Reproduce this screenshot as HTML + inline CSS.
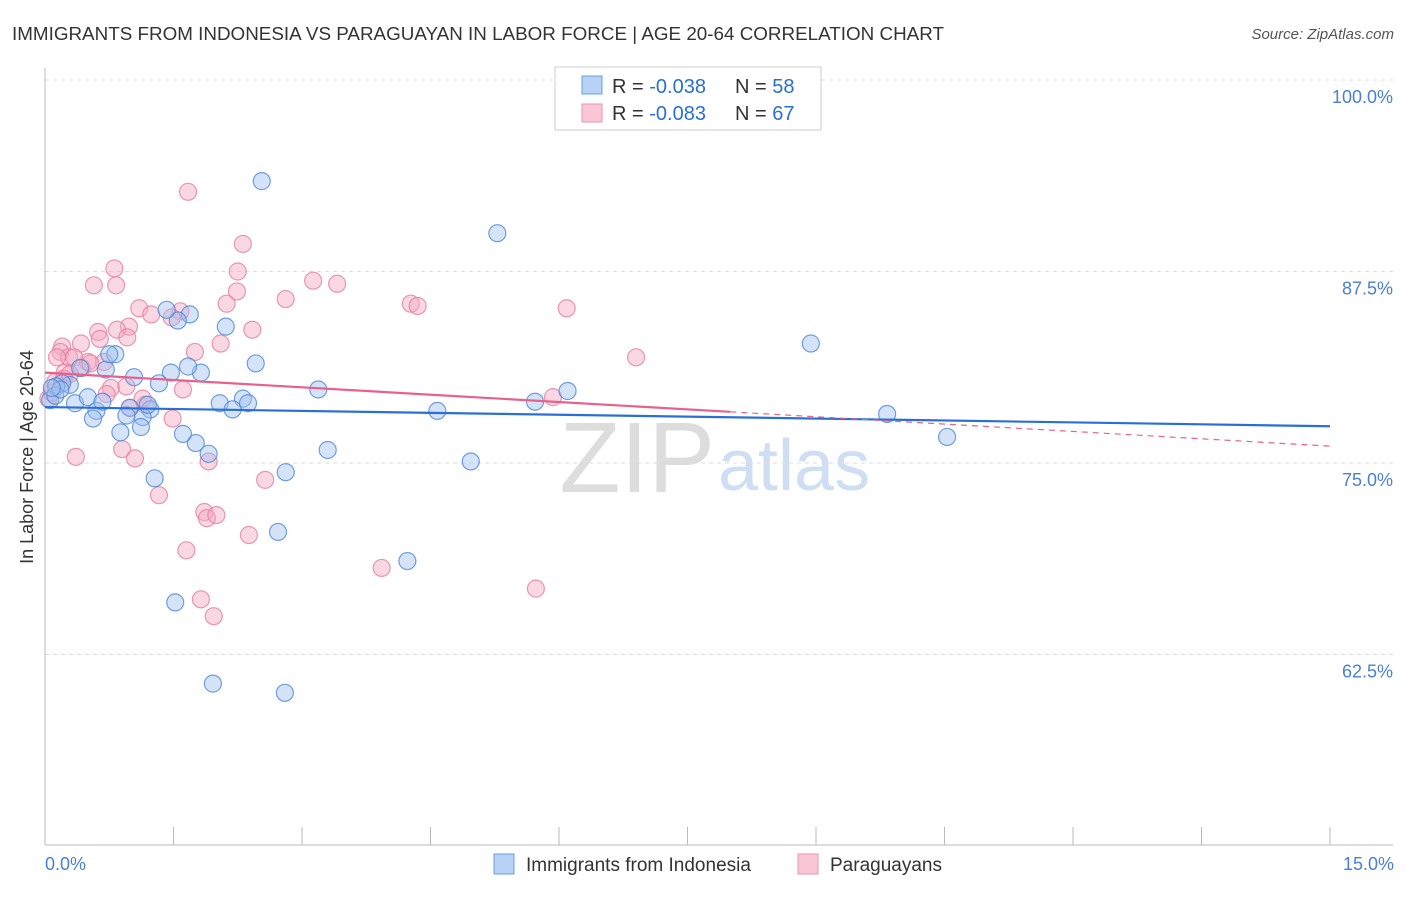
<!DOCTYPE html>
<html><head><meta charset="utf-8"><style>
body{margin:0;background:#fff;font-family:"Liberation Sans",sans-serif;}
svg text{font-family:"Liberation Sans",sans-serif;}
</style></head><body>
<svg id="c" width="1406" height="892" xmlns="http://www.w3.org/2000/svg">
<text x="12" y="40" font-size="18" fill="#333" textLength="932" lengthAdjust="spacingAndGlyphs">IMMIGRANTS FROM INDONESIA VS PARAGUAYAN IN LABOR FORCE | AGE 20-64 CORRELATION CHART</text>
<text x="1394" y="39" font-size="15" fill="#555" text-anchor="end" font-style="italic">Source: ZipAtlas.com</text>
<text x="715" y="492" font-size="100" fill="#ddd" text-anchor="end" font-family="Liberation Serif">ZIP</text>
<text x="718" y="490" font-size="72" fill="#cfdff3">atlas</text>
<g id="grid"></g>
<g id="axes"></g>
<g id="marks"></g>
<g id="trend"></g>
<text x="33" y="457" font-size="18" fill="#333" text-anchor="middle" transform="rotate(-90 33 457)">In Labor Force | Age 20-64</text>
<text x="45" y="870" font-size="18" fill="#4a7fd6">0.0%</text>
<text x="1394" y="870" font-size="18" fill="#4a7fd6" text-anchor="end">15.0%</text>
<g>
<rect x="555" y="67" width="266" height="63" fill="#fff" stroke="#ccc"/>
<rect x="582" y="76" width="20" height="18" fill="#b7d2f5" stroke="#6a9de0"/>
<rect x="582" y="104" width="20" height="18" fill="#f9c6d5" stroke="#eb96b2"/>
<text x="612" y="93" font-size="20" fill="#333">R = <tspan fill="#2a6fd6">-0.038</tspan></text>
<text x="735" y="93" font-size="20" fill="#333">N = <tspan fill="#2a6fd6">58</tspan></text>
<text x="612" y="120" font-size="20" fill="#333">R = <tspan fill="#2a6fd6">-0.083</tspan></text>
<text x="735" y="120" font-size="20" fill="#333">N = <tspan fill="#2a6fd6">67</tspan></text>
</g>
<g>
<rect x="494" y="854" width="20" height="20" fill="#b7d2f5" stroke="#6a9de0"/>
<text x="526" y="871" font-size="19" fill="#333">Immigrants from Indonesia</text>
<rect x="798" y="854" width="20" height="20" fill="#f9c6d5" stroke="#eb96b2"/>
<text x="830" y="871" font-size="19" fill="#333">Paraguayans</text>
</g>
</svg>
<script>
const yTicks=[100,87.5,75,62.5];
const yTickLabels=["100.0%","87.5%","75.0%","62.5%"];
const xTicks=[0,1.5,3,4.5,6,7.5,9,10.5,12,13.5,15];
const blueX=[2.53,5.28,8.94,9.83,10.53,6.10,5.72,4.58,4.97,4.23,3.30,3.19,2.81,2.72,2.80,1.96,1.52,2.46,2.11,1.69,1.55,1.42,1.82,1.67,1.47,1.33,1.04,0.71,0.82,0.75,2.31,2.37,2.04,2.19,1.76,1.61,1.91,1.28,1.23,1.14,1.12,0.99,0.95,0.88,0.60,0.56,0.35,0.50,0.29,0.20,0.13,0.06,0.12,0.18,1.20,0.67,0.41,0.08];
const blueY=[93.4,90.0,82.8,78.2,76.7,79.7,79.0,78.4,75.1,68.6,75.85,79.8,74.4,70.5,60.0,60.6,65.9,81.5,83.9,84.7,84.3,85.0,80.9,81.3,80.9,80.2,80.6,81.1,82.1,82.1,79.2,78.9,78.9,78.5,76.3,76.9,75.6,74.0,78.5,78.0,77.35,78.6,78.1,77.0,78.4,77.9,78.9,79.3,80.1,80.2,80.0,79.1,79.4,79.8,78.8,79.0,81.2,79.9];
const pinkX=[1.67,2.31,2.25,0.81,0.57,0.83,3.13,3.41,2.81,4.27,4.35,6.09,6.90,2.24,2.12,1.10,1.24,1.58,1.48,2.42,2.05,1.75,0.98,0.84,0.96,0.62,0.64,0.20,0.18,0.42,0.28,0.14,0.50,0.69,0.34,0.43,0.53,0.23,0.77,0.95,1.61,0.72,0.99,1.17,1.14,1.49,1.91,0.90,1.05,0.36,2.57,1.33,1.86,1.89,2.00,2.38,1.65,3.93,5.73,1.82,1.97,5.93,0.04,0.08,0.12,0.22,0.29];
const pinkY=[92.7,89.3,87.5,87.7,86.6,86.6,86.9,86.7,85.7,85.4,85.25,85.1,81.9,86.2,85.4,85.1,84.7,84.9,84.5,83.7,82.8,82.25,83.9,83.7,83.2,83.55,83.1,82.6,82.25,82.8,81.9,81.9,81.6,81.6,81.9,81.2,81.5,80.9,79.9,80.0,79.8,79.5,78.6,78.8,79.2,77.9,75.1,75.9,75.3,75.4,73.9,72.9,71.8,71.4,71.6,70.3,69.3,68.15,66.8,66.1,65.0,79.3,79.2,79.6,80.3,80.5,80.8];
const blueTrend=[78.65,77.4];
const pinkTrend=[80.9,76.1];
const pinkSolidEnd=8.0;
const NS='http://www.w3.org/2000/svg';
const X0=45,X1=1330,Y100=80,PXY=15.32;
const xs=v=>X0+(X1-X0)*v/15;
const ys=v=>Y100+(100-v)*PXY;
function mk(t,a,p){const e=document.createElementNS(NS,t);for(const k in a)e.setAttribute(k,a[k]);p.appendChild(e);return e;}
const grid=document.getElementById('grid'),axes=document.getElementById('axes'),marks=document.getElementById('marks'),trend=document.getElementById('trend');
yTicks.forEach((v,i)=>{
 const l=mk('line',{x1:X0,x2:1393,y1:ys(v),y2:ys(v),stroke:'#ddd','stroke-dasharray':'4 4'},grid);
 
 
 const t=mk('text',{x:1393,y:ys(v)+23,'font-size':18,fill:'#4a7fd6','text-anchor':'end'},grid);
 t.textContent=yTickLabels[i];
 
 
});
const xa=mk('line',{x1:X0,x2:1393,y1:845,y2:845,stroke:'#bbb'},axes);


const ya=mk('line',{x1:X0,x2:X0,y1:68,y2:845,stroke:'#bbb'},axes);


xTicks.forEach(v=>{const t=mk('line',{x1:xs(v),x2:xs(v),y1:827,y2:845,stroke:'#bbb'},axes);
 
 });
function pts(X,Y,fill,stroke,name){X.forEach((x,i)=>{const c=mk('circle',{cx:xs(x),cy:ys(Y[i]),r:8.5,fill:fill,'fill-opacity':0.45,stroke:stroke,'stroke-opacity':0.8,'stroke-width':1.2},marks);
 
 });}
pts(pinkX,pinkY,'#f4a9c0','#e57fa0','paraguayan-point');
pts(blueX,blueY,'#9fc2ef','#4f88da','indonesia-point');
const pAt=x=>pinkTrend[0]+(pinkTrend[1]-pinkTrend[0])*x/15;
const bt=mk('line',{x1:xs(0),y1:ys(blueTrend[0]),x2:xs(15),y2:ys(blueTrend[1]),stroke:'#2a6fd6','stroke-width':2.2},trend);


const pt=mk('line',{x1:xs(0),y1:ys(pAt(0)),x2:xs(pinkSolidEnd),y2:ys(pAt(pinkSolidEnd)),stroke:'#e8608c','stroke-width':2.2},trend);


const pd=mk('line',{x1:xs(pinkSolidEnd),y1:ys(pAt(pinkSolidEnd)),x2:xs(15),y2:ys(pAt(15)),stroke:'#e8608c','stroke-width':1.2,'stroke-dasharray':'6 5'},trend);


</script>
</body></html>
